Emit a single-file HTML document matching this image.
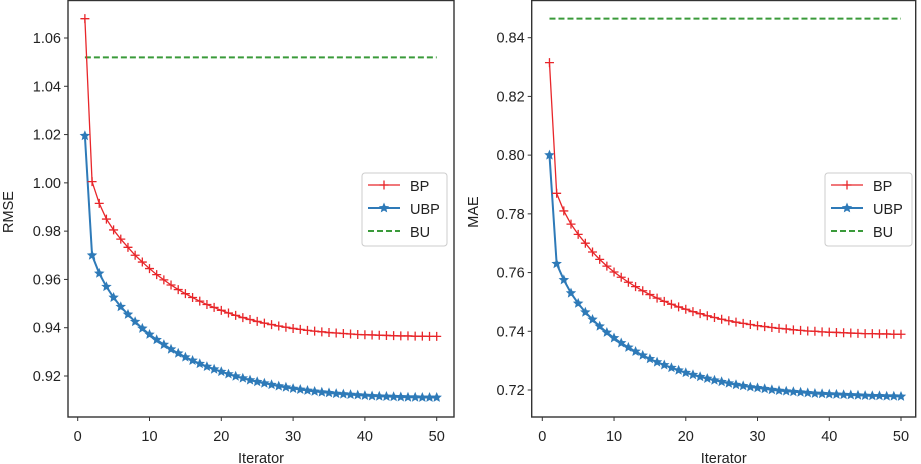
<!DOCTYPE html>
<html><head><meta charset="utf-8"><style>
html,body{margin:0;padding:0;background:#fff;}
svg{display:block;font-family:"Liberation Sans","DejaVu Sans",sans-serif;}
</style></head><body>
<svg id="chart" width="921" height="464" viewBox="0 0 921 464" xmlns="http://www.w3.org/2000/svg"></svg>
<script>
const iters = Array.from({length:50},(_,i)=>i+1);
const xTicks = [0,10,20,30,40,50];
const rmseTicks = [0.92,0.94,0.96,0.98,1.00,1.02,1.04,1.06];
const maeTicks = [0.72,0.74,0.76,0.78,0.80,0.82,0.84];
const rmseBP = [1.068,1.0005,0.9915,0.985,0.9805,0.9767,0.9733,0.9700,0.9672,0.9645,0.9620,0.9598,0.9577,0.9558,0.9541,0.9525,0.9510,0.9496,0.9484,0.9472,0.9461,0.9451,0.9442,0.9434,0.9426,0.9419,0.9413,0.9407,0.9402,0.9397,0.9393,0.9389,0.9386,0.9383,0.9380,0.9378,0.9376,0.9374,0.9372,0.9371,0.9370,0.9369,0.9368,0.9367,0.9366,0.9366,0.9365,0.9365,0.9364,0.9364];
const rmseUBP = [1.0195,0.970,0.9625,0.957,0.9525,0.9487,0.9455,0.9425,0.9397,0.9372,0.9350,0.9330,0.9311,0.9294,0.9278,0.9264,0.9251,0.9239,0.9228,0.9218,0.9208,0.9199,0.9191,0.9183,0.9176,0.9170,0.9164,0.9158,0.9153,0.9148,0.9144,0.9140,0.9136,0.9133,0.9130,0.9127,0.9125,0.9123,0.9121,0.9119,0.9117,0.9116,0.9115,0.9114,0.9113,0.9112,0.9112,0.9111,0.9111,0.9111];
const rmseBU = 1.052;
const maeBP = [0.8315,0.787,0.781,0.7765,0.773,0.770,0.767,0.7645,0.7622,0.7602,0.7584,0.7567,0.7552,0.7538,0.7525,0.7513,0.7502,0.7492,0.7483,0.7475,0.7467,0.7460,0.7453,0.7447,0.7441,0.7436,0.7431,0.7427,0.7423,0.7419,0.7416,0.7413,0.7410,0.7408,0.7405,0.7403,0.7401,0.7400,0.7398,0.7397,0.7396,0.7395,0.7394,0.7393,0.7392,0.7392,0.7391,0.7391,0.7390,0.7390];
const maeUBP = [0.800,0.763,0.7575,0.753,0.7495,0.7465,0.744,0.7417,0.7396,0.7377,0.7360,0.7345,0.7331,0.7318,0.7306,0.7295,0.7285,0.7276,0.7267,0.7259,0.7252,0.7245,0.7239,0.7233,0.7228,0.7223,0.7218,0.7214,0.7210,0.7207,0.7204,0.7201,0.7198,0.7196,0.7194,0.7192,0.7190,0.7188,0.7187,0.7186,0.7185,0.7184,0.7183,0.7182,0.7181,0.7180,0.7180,0.7179,0.7179,0.7178];
const maeBU = 0.8465;

const NS="http://www.w3.org/2000/svg";
const svg=document.getElementById('chart');
function mk(tag,attrs,parent){const e=document.createElementNS(NS,tag);for(const k in attrs)e.setAttribute(k,attrs[k]);(parent||svg).appendChild(e);return e;}
function star(cx,cy,r){let p=[];for(let i=0;i<10;i++){const a=-Math.PI/2+i*Math.PI/5;const rr=i%2?r*0.45:r;p.push((cx+rr*Math.cos(a)).toFixed(1)+','+(cy+rr*Math.sin(a)).toFixed(1));}return p.join(' ');}

function panel(cfg){
  const g=mk('g',{});
  
  
  const xs=v=>cfg.x0+(v-0)*(cfg.x50-cfg.x0)/50;
  const ys=v=>cfg.yA+(v-cfg.vA)*(cfg.yB-cfg.yA)/(cfg.vB-cfg.vA);
  xTicks.forEach(t=>{
    const l=mk('line',{x1:xs(t),x2:xs(t),y1:cfg.bottom,y2:cfg.bottom+4,stroke:'#333','stroke-width':1},g);
    
    const tx=mk('text',{x:xs(t),y:cfg.bottom+24,'text-anchor':'middle','font-size':14.5,fill:'#222'},g);
    tx.textContent=t;
    
  });
  cfg.yTicks.forEach(t=>{
    const l=mk('line',{x1:cfg.left-4,x2:cfg.left,y1:ys(t),y2:ys(t),stroke:'#333','stroke-width':1},g);
    
    const tx=mk('text',{x:cfg.left-7,y:ys(t)+5,'text-anchor':'end','font-size':14.5,fill:'#222'},g);
    tx.textContent=t.toFixed(2);
    
  });
  const bu=mk('line',{x1:xs(1),x2:xs(50),y1:ys(cfg.bu),y2:ys(cfg.bu),stroke:'#3a9a3a','stroke-width':2,'stroke-dasharray':'6,3'},g);
  
  const up=mk('polyline',{points:iters.map((x,i)=>xs(x)+','+ys(cfg.ubp[i])).join(' '),fill:'none',stroke:'#2e7ab8','stroke-width':2},g);
  
  iters.forEach((x,i)=>{
    const s=mk('polygon',{points:star(xs(x),ys(cfg.ubp[i]),5.5),fill:'#2e7ab8'},g);
    
  });
  const bp=mk('polyline',{points:iters.map((x,i)=>xs(x)+','+ys(cfg.bp[i])).join(' '),fill:'none',stroke:'#e8262a','stroke-width':1.3},g);
  
  iters.forEach((x,i)=>{
    const X=xs(x),Y=ys(cfg.bp[i]);
    const p=mk('path',{d:`M${X-4.5},${Y}H${X+4.5}M${X},${Y-4.5}V${Y+4.5}`,stroke:'#e8262a','stroke-width':1.3},g);
    
  });
  const fr=mk('rect',{x:cfg.left,y:0.5,width:cfg.right-cfg.left,height:cfg.bottom-0.5,fill:'none',stroke:'#333','stroke-width':1.4},g);
  
  const xt=mk('text',{x:(cfg.left+cfg.right)/2,y:463,'text-anchor':'middle','font-size':14.5,fill:'#222'},g);
  xt.textContent='Iterator';
  const yt=mk('text',{x:cfg.ylabX,y:212,'text-anchor':'middle','font-size':14.5,fill:'#222',transform:`rotate(-90 ${cfg.ylabX} 212)`},g);
  yt.textContent=cfg.ylabel;
  const lg=mk('g',{},g);
  
  mk('rect',{x:cfg.lgX,y:173,width:cfg.lgW,height:73,rx:3,fill:'#fff','fill-opacity':0.85,stroke:'#ccc'},lg);
  const lx=cfg.lgX+6, tx=cfg.lgX+48;
  const e1=mk('g',{},lg);
  mk('line',{x1:lx,x2:lx+32,y1:185,y2:185,stroke:'#e8262a','stroke-width':1.3},e1);
  mk('path',{d:`M${lx+11.5},185H${lx+20.5}M${lx+16},180.5V189.5`,stroke:'#e8262a','stroke-width':1.3},e1);
  mk('text',{x:tx,y:191,'font-size':14.5,fill:'#222'},e1).textContent='BP';
  const e2=mk('g',{},lg);
  mk('line',{x1:lx,x2:lx+32,y1:208,y2:208,stroke:'#2e7ab8','stroke-width':2},e2);
  mk('polygon',{points:star(lx+16,208,5.5),fill:'#2e7ab8'},e2);
  mk('text',{x:tx,y:214,'font-size':14.5,fill:'#222'},e2).textContent='UBP';
  const e3=mk('g',{},lg);
  mk('line',{x1:lx,x2:lx+32,y1:231,y2:231,stroke:'#3a9a3a','stroke-width':2,'stroke-dasharray':'6,3'},e3);
  mk('text',{x:tx,y:237,'font-size':14.5,fill:'#222'},e3).textContent='BU';
}
panel({name:'rmse-panel',left:68,right:454,bottom:417,x0:77.7,x50:436.7,yA:376,vA:0.92,yB:38,vB:1.06,yTicks:rmseTicks,bp:rmseBP,ubp:rmseUBP,bu:rmseBU,ylabel:'RMSE',ylabX:13,lgX:362,lgW:85});
panel({name:'mae-panel',left:531.7,right:915.7,bottom:417,x0:542.3,x50:901,yA:390,vA:0.72,yB:37.7,vB:0.84,yTicks:maeTicks,bp:maeBP,ubp:maeUBP,bu:maeBU,ylabel:'MAE',ylabX:478,lgX:825,lgW:87});
</script>
</body></html>
